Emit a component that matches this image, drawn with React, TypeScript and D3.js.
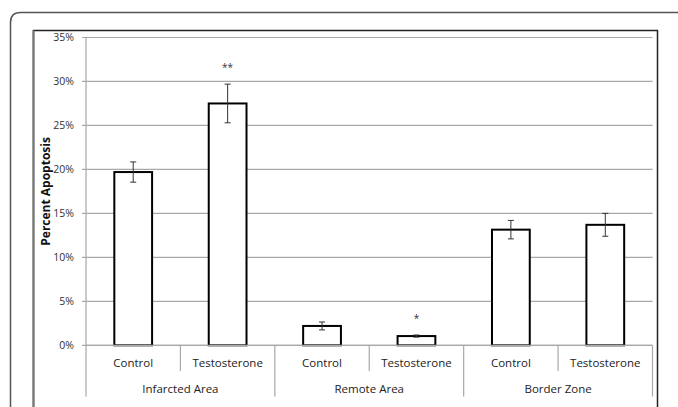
import React from "react";
import * as d3 from "d3";

// Apoptosis by region and treatment
const groups = ["Infarcted Area", "Remote Area", "Border Zone"];
const treatments = ["Control", "Testosterone"];
const means = [19.7, 27.5, 2.2, 1.05, 13.15, 13.7];
const errors = [1.15, 2.2, 0.45, 0.12, 1.05, 1.3];
const significance = ["", "**", "", "*", "", ""];
const yTicks = [0, 5, 10, 15, 20, 25, 30, 35];

const W = 678;
const H = 407;
const FONT = "'Open Sans', 'Noto Sans', sans-serif";

export default function App() {
  const left = 86;
  const right = 652.5;
  const top = 37.5;
  const bottom = 345.3;

  const bars = groups.flatMap((g, gi) =>
    treatments.map((t, ti) => ({ g, t, i: gi * treatments.length + ti }))
  );

  const x = d3
    .scaleBand<number>()
    .domain(bars.map((b) => b.i))
    .range([left, right])
    .paddingInner(0)
    .paddingOuter(0);
  const y = d3.scaleLinear().domain([0, 35]).range([bottom, top]);
  const barW = x.bandwidth() * 0.4;
  const groupW = x.bandwidth() * treatments.length;

  return (
    <svg
      width={W}
      height={H}
      style={{ position: "absolute", left: 0, top: 0, background: "#fff" }}
      fontFamily={FONT}
    >
      {/* outer rounded frame */}
      <path
        d={`M10.5,${H + 5} L10.5,22.5 Q10.5,12.5 20.5,12.5 L${W + 5},12.5`}
        fill="none"
        stroke="#555"
        strokeWidth={1.5}
      />
      {/* inner chart box */}
      <path
        d={`M33.5,${H + 5} L33.5,30.5 L657.5,30.5 L657.5,${H + 5}`}
        fill="none"
        stroke="#222"
        strokeWidth={1.5}
      />
      <line x1={33.5} x2={33.5} y1={30.5} y2={H + 5} stroke="#777" strokeWidth={2} />

      {/* gridlines and y ticks */}
      {yTicks.map((t) => (
        <g key={t}>
          <line
            x1={left - 4}
            x2={right}
            y1={y(t)}
            y2={y(t)}
            stroke="#a8a8a8"
            strokeWidth={1.2}
          />
          <text
            x={74}
            y={y(t)}
            dy="0.35em"
            textAnchor="end"
            fontSize={10.5}
            fill="#333"
          >
            {d3.format(".0%")(t / 100)}
          </text>
        </g>
      ))}
      <line x1={left} x2={left} y1={top} y2={bottom} stroke="#a8a8a8" strokeWidth={1.2} />

      {/* y axis title */}
      <text
        transform={`translate(46,${(top + bottom) / 2}) rotate(-90)`}
        textAnchor="middle"
        dy="0.35em"
        fontSize={12}
        fontWeight="bold"
        fill="#111"
      >
        Percent Apoptosis
      </text>

      {/* bars */}
      {bars.map((b) => {
        const cx = (x(b.i) as number) + x.bandwidth() / 2;
        const v = means[b.i];
        const e = errors[b.i];
        return (
          <g key={b.i}>
            <rect
              x={cx - barW / 2}
              y={y(v)}
              width={barW}
              height={bottom - y(v)}
              fill="#fff"
              stroke="#000"
              strokeWidth={2}
            />
            <line x1={cx} x2={cx} y1={y(v + e)} y2={y(v - e)} stroke="#333" strokeWidth={1} />
            <line x1={cx - 3} x2={cx + 3} y1={y(v + e)} y2={y(v + e)} stroke="#333" strokeWidth={1} />
            <line x1={cx - 3} x2={cx + 3} y1={y(v - e)} y2={y(v - e)} stroke="#333" strokeWidth={1} />
            {significance[b.i] && (
              <text
                x={cx}
                y={y(v + e) - 13}
                textAnchor="middle"
                fontSize={10}
                fill="#333"
              >
                {significance[b.i]}
              </text>
            )}
            <text
              x={cx}
              y={363}
              dy="0.35em"
              textAnchor="middle"
              fontSize={11.5}
              fill="#222"
            >
              {b.t}
            </text>
          </g>
        );
      })}

      {/* category axis baseline */}
      <line x1={left} x2={right} y1={bottom} y2={bottom} stroke="#a8a8a8" strokeWidth={1.2} />

      {/* category separators */}
      {bars.map((b) =>
        b.i % treatments.length === 1 ? (
          <line
            key={"s" + b.i}
            x1={(x(b.i) as number)}
            x2={(x(b.i) as number)}
            y1={bottom}
            y2={371}
            stroke="#a8a8a8"
            strokeWidth={1.2}
          />
        ) : null
      )}
      {d3.range(groups.length + 1).map((gi) => (
        <line
          key={"g" + gi}
          x1={left + gi * groupW}
          x2={left + gi * groupW}
          y1={bottom}
          y2={396.5}
          stroke="#a8a8a8"
          strokeWidth={1.2}
        />
      ))}
      {groups.map((g, gi) => (
        <text
          key={g}
          x={left + gi * groupW + groupW / 2}
          y={389}
          dy="0.35em"
          textAnchor="middle"
          fontSize={11.5}
          fill="#222"
        >
          {g}
        </text>
      ))}
    </svg>
  );
}
